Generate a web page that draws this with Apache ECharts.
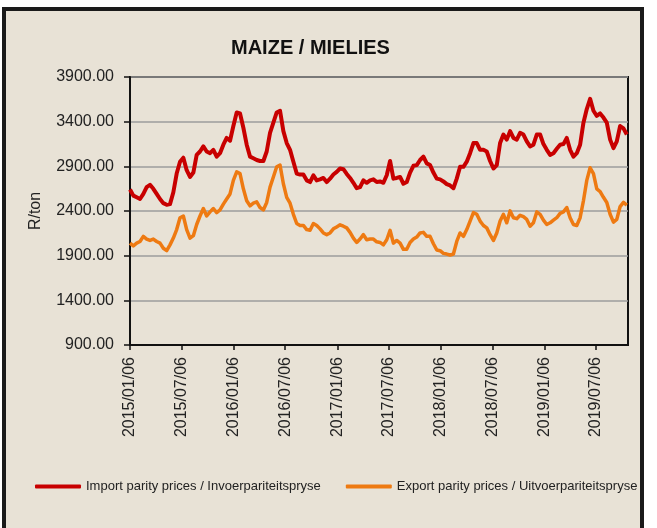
<!DOCTYPE html>
<html lang="en">

<head>
  <meta charset="UTF-8">
  <title>Maize / Mielies</title>
  <script src="https://cdn.jsdelivr.net/npm/echarts@6/dist/echarts.min.js"></script>
  <style>
    body { margin: 0; background: #fff; }
    #frame {
      position: absolute; left: 2px; top: 7px; width: 634px; height: 530px;
      border: 4px solid #1a1a1a; border-bottom: none; background: #e8e2d6;
    }
    #main { position: absolute; left: 0; top: 0; width: 657px; height: 528px; }
  </style>
</head>

<body>
  <div id="frame"></div>
  <div id="main"></div>
  <script>
    // R/ton, every ~11.75 days from 2015/01/06
    var startDate = '2015/01/06';
    var stepDays = 11.75;
    var endDate = '2019/10/27';

    var importPrices = [
      2640, 2572, 2553, 2534, 2591, 2667, 2693, 2648, 2591, 2534, 2488, 2469, 2477, 2610, 2819, 2952, 2997, 2857, 2781, 2830, 3028, 3066, 3123, 3066, 3047, 3085, 3009, 3047, 3142, 3218,
      3187, 3351, 3503, 3492, 3332, 3142, 3009, 2990, 2971, 2960, 2960, 3066, 3275, 3389, 3503, 3522, 3294, 3161, 3085, 2952, 2819, 2808, 2808, 2743, 2724, 2800, 2743, 2754, 2770, 2724,
      2762, 2808, 2838, 2876, 2868, 2815, 2770, 2716, 2655, 2667, 2743, 2716, 2743, 2754, 2724, 2731, 2716, 2800, 2960, 2762, 2770, 2781, 2705, 2724, 2830, 2906, 2914, 2971, 3009, 2933,
      2914, 2830, 2762, 2754, 2731, 2701, 2686, 2655, 2762, 2895, 2895, 2952, 3047, 3161, 3161, 3085, 3085, 3066, 2960, 2876, 2914, 3161, 3256, 3199, 3294, 3218, 3199, 3275, 3256, 3180,
      3123, 3142, 3256, 3256, 3149, 3085, 3028, 3047, 3096, 3142, 3149, 3218, 3085, 3009, 3047, 3142, 3389, 3541, 3655, 3522, 3465, 3492, 3446, 3389, 3199, 3104, 3180, 3351, 3325, 3256
    ];
    var exportPrices = [
      2040, 2010, 2040, 2059, 2116, 2086, 2070, 2086, 2059, 2040, 1983, 1956, 2021, 2097, 2192, 2325, 2344, 2192, 2097, 2124, 2249, 2344, 2428, 2344, 2390, 2428, 2382, 2412, 2477, 2534,
      2591, 2743, 2838, 2819, 2648, 2515, 2458, 2488, 2503, 2439, 2412, 2496, 2667, 2781, 2895, 2914, 2705, 2553, 2488, 2363, 2260, 2238, 2238, 2192, 2184, 2260, 2238, 2200, 2154, 2135,
      2154, 2200, 2222, 2245, 2230, 2211, 2161, 2097, 2048, 2086, 2135, 2078, 2086, 2086, 2055, 2048, 2021, 2078, 2184, 2040, 2070, 2040, 1971, 1971, 2048, 2086, 2108, 2154, 2161, 2116,
      2116, 2033, 1964, 1956, 1926, 1918, 1907, 1918, 2059, 2154, 2116, 2192, 2287, 2382, 2363, 2287, 2238, 2211, 2135, 2070, 2154, 2287, 2363, 2268, 2401, 2325, 2314, 2352, 2336, 2306,
      2230, 2268, 2390, 2363, 2298, 2249, 2268, 2298, 2325, 2374, 2390, 2439, 2325, 2249, 2238, 2325, 2515, 2743, 2884, 2819, 2648, 2618, 2553, 2496, 2363, 2276, 2306, 2450, 2496, 2465
    ];
    var tickDates = ['2015/01/06', '2015/07/06', '2016/01/06', '2016/07/06', '2017/01/06',
      '2017/07/06', '2018/01/06', '2018/07/06', '2019/01/06', '2019/07/06'];
    var seriesNames = ['Import parity prices / Invoerpariteitspryse', 'Export parity prices / Uitvoerpariteitspryse'];

    function toTime(s) {
      var p = s.split('/');
      return Date.UTC(+p[0], +p[1] - 1, +p[2]);
    }
    function pad(n) { return n < 10 ? '0' + n : '' + n; }
    function fmtDate(t) {
      var d = new Date(Math.round(t));
      return d.getUTCFullYear() + '/' + pad(d.getUTCMonth() + 1) + '/' + pad(d.getUTCDate());
    }

    var t0 = toTime(startDate);
    var DAY = 86400000;
    function pairs(vals) {
      return vals.map(function (v, i) { return [t0 + i * stepDays * DAY, v]; });
    }

    var font = 'Liberation Sans, Arial, sans-serif';
    var chart = echarts.init(document.getElementById('main'));
    var option = {
      animation: false,
      backgroundColor: 'transparent',
      textStyle: { fontFamily: font },
      title: {
        text: 'MAIZE / MIELIES',
        left: 226,
        top: 33,
        textStyle: { fontSize: 20, fontWeight: 'bold', color: '#111', fontFamily: font }
      },
      legend: {
        left: 30,
        top: 475,
        icon: 'roundRect',
        itemWidth: 46,
        itemHeight: 4,
        itemGap: 25,
        textStyle: { fontSize: 13, color: '#222' },
        data: seriesNames
      },
      grid: {
        left: 130,
        right: 29,
        top: 77,
        bottom: 183,
        show: true,
        borderColor: '#111',
        borderWidth: 2
      },
      xAxis: {
        type: 'value',
        min: t0,
        max: toTime(endDate),
        axisLine: { lineStyle: { color: '#111', width: 2 } },
        axisTick: {
          show: true, length: 5, lineStyle: { color: '#111', width: 1.5 },
          customValues: tickDates.map(toTime)
        },
        axisLabel: {
          rotate: 90, margin: 12, fontSize: 16, color: '#222',
          customValues: tickDates.map(toTime),
          formatter: function (v) { return fmtDate(v); }
        },
        splitLine: { show: false }
      },
      yAxis: {
        type: 'value',
        min: 900,
        max: 3900,
        interval: 500,
        name: 'R/ton',
        nameLocation: 'middle',
        nameGap: 86,
        nameTextStyle: { fontSize: 16, color: '#222' },
        axisLine: { show: true, lineStyle: { color: '#111', width: 2 } },
        axisTick: { show: true, length: 6, lineStyle: { color: '#111', width: 1.5 } },
        axisLabel: {
          margin: 16, fontSize: 16, color: '#222',
          formatter: function (v) { return v.toFixed(2); }
        },
        splitLine: { lineStyle: { color: '#9c9c9c', width: 1.5 } }
      },
      series: [{
        name: seriesNames[0],
        type: 'line',
        symbol: 'none',
        data: pairs(importPrices),
        lineStyle: { color: '#c80000', width: 4, join: 'round' },
        itemStyle: { color: '#c80000' }
      }, {
        name: seriesNames[1],
        type: 'line',
        symbol: 'none',
        data: pairs(exportPrices),
        lineStyle: { color: '#ee7a12', width: 3.5, join: 'round' },
        itemStyle: { color: '#ee7a12' }
      }]
    };
    chart.setOption(option);
  </script>
</body>

</html>
